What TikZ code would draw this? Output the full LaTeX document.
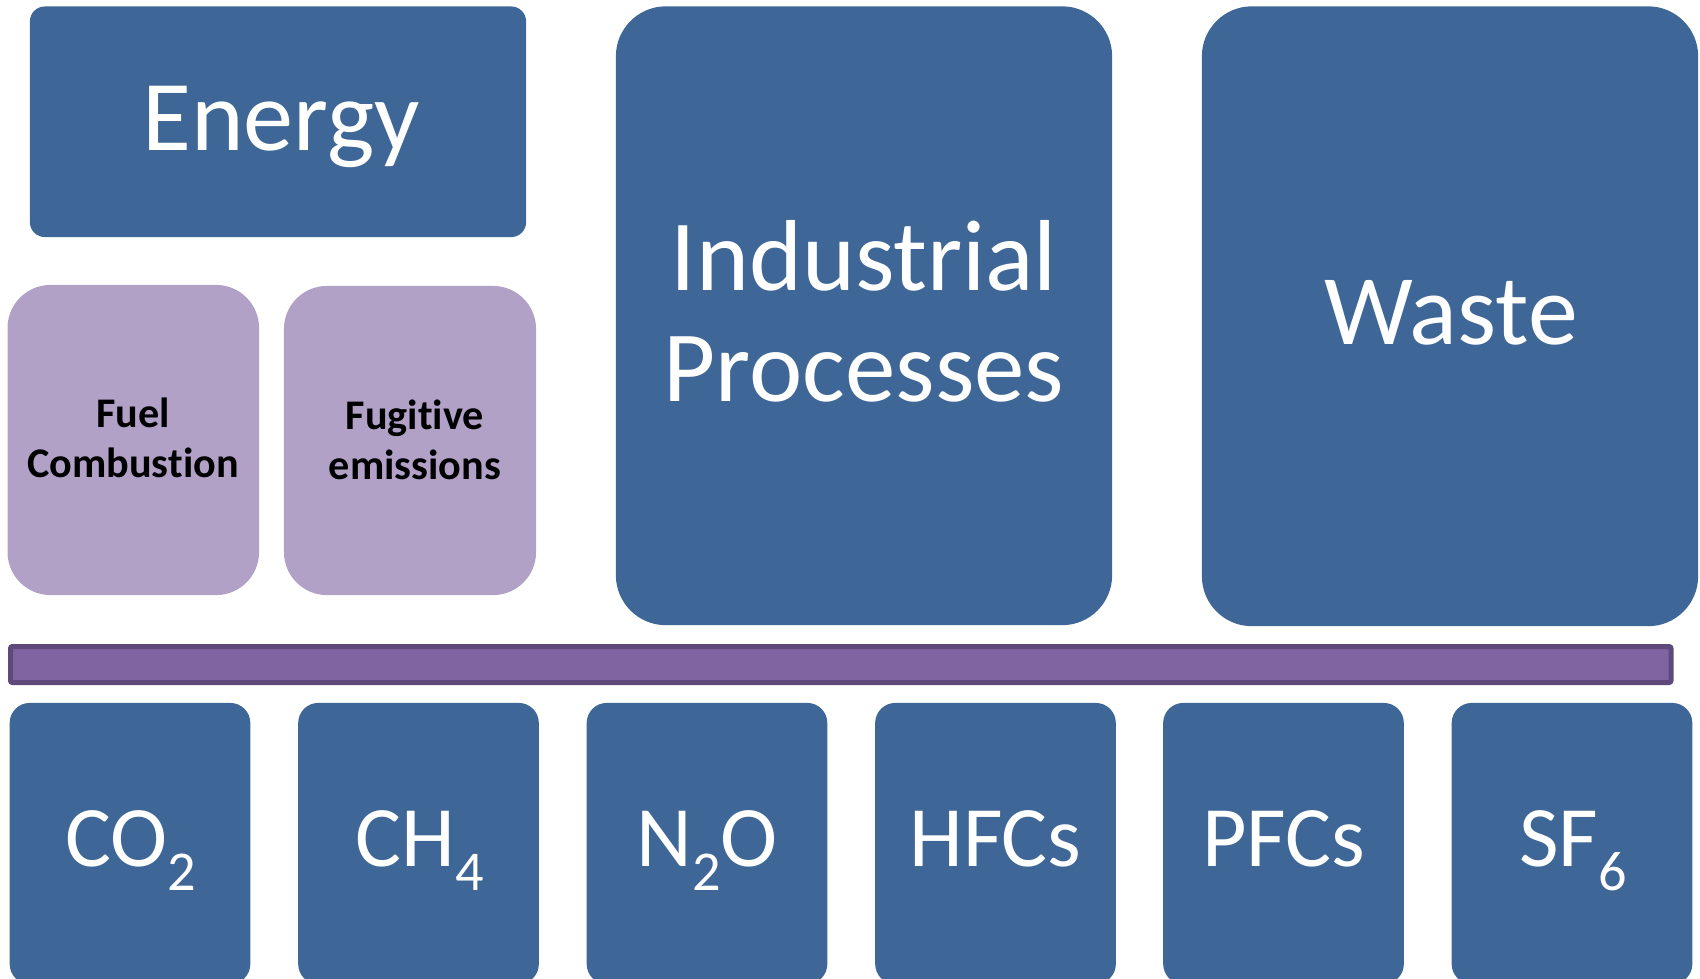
\documentclass[tikz,border=0pt]{standalone}
\usepackage{fontspec}
\setmainfont{Carlito}[Ligatures=NoCommon]
\usetikzlibrary{positioning}
\definecolor{boxblue}{RGB}{62,102,150}
\definecolor{lilac}{RGB}{178,161,199}
\definecolor{barpurple}{RGB}{128,100,162}
\definecolor{bardark}{RGB}{94,73,122}
\newcommand{\gassub}[1]{\raisebox{-0.28em}{\fontsize{16pt}{16pt}\selectfont #1}}

\begin{document}
\begin{tikzpicture}[x=0.01cm, y=-0.01cm,
	sector/.style={fill=boxblue, inner sep=0pt, rounded corners=0.5cm},
	sub/.style={fill=lilac, inner sep=0pt, rounded corners=0.43cm},
	gas/.style={fill=boxblue, inner sep=0pt, rounded corners=0.2cm,
		minimum width=2.405cm, minimum height=2.81cm},
	bigtext/.style={text=white, inner sep=0pt, align=center},
	subtext/.style={text=black, inner sep=0pt, align=center,
		font=\bfseries\fontsize{12pt}{14.2pt}\selectfont},
	gastext/.style={text=white, inner sep=0pt,
		font=\fontsize{24.5pt}{28pt}\selectfont}]
\useasboundingbox (0,0) rectangle (1700,978);
\clip (0,0) rectangle (1700,978);
% sectors
\node [sector, rounded corners=0.15cm, minimum width=4.96cm, minimum height=2.305cm] (energy) at (278,121.75) {};
\node [sub, minimum width=2.514cm, minimum height=3.1cm] (fuel) at (133.3,440) {};
\node [sub, minimum width=2.52cm, minimum height=3.09cm] (fugitive) at (410,440.5) {};
\node [sector, minimum width=4.96cm, minimum height=6.185cm] (industry) at (864,315.75) {};
\node [sector, minimum width=4.96cm, minimum height=6.195cm] (waste) at (1450,316.25) {};
\node [bigtext, anchor=base, font=\fontsize{28.5pt}{32pt}\selectfont] (energy-t) at (281,150) {Energy};
\node [bigtext, anchor=base, font=\fontsize{28.7pt}{31.5pt}\selectfont] (industry-t) at (864,401) {Industrial\\Processes};
\node [bigtext, anchor=base, font=\fontsize{28.4pt}{32pt}\selectfont] (waste-t) at (1451,344) {Waste};
\node [subtext, anchor=base] (fuel-t) at (133,477) {Fuel\\Combustion};
\node [subtext, anchor=base] (fugitive-t) at (415,479) {Fugitive\\emissions};
% bar
\node [fill=barpurple, draw=bardark, line width=0.05cm, rounded corners=0.02cm,
	inner sep=0pt, minimum width=16.595cm, minimum height=0.36cm] (bar) at (840.75,664.5) {};
% gases
\node [gas] (co2) at (130,843.5) {};
\node [gas] (ch4) at (418.5,843.5) {};
\node [gas] (n2o) at (707,843.5) {};
\node [gas] (hfc) at (995.5,843.5) {};
\node [gas] (pfc) at (1283.5,843.5) {};
\node [gas] (sf6) at (1572,843.5) {};
\node [gastext, anchor=base] (co2-t) at (131,866) {CO\gassub{2}};
\node [gastext, anchor=base] (ch4-t) at (419.5,866) {CH\gassub{4}};
\node [gastext, anchor=base] (n2o-t) at (707,866) {N\gassub{2}O};
\node [gastext, anchor=base] (hfc-t) at (995.5,866) {HFCs};
\node [gastext, anchor=base] (pfc-t) at (1283.5,866) {PFCs};
\node [gastext, anchor=base] (sf6-t) at (1573,866) {SF\gassub{6}};
\end{tikzpicture}
\end{document}
